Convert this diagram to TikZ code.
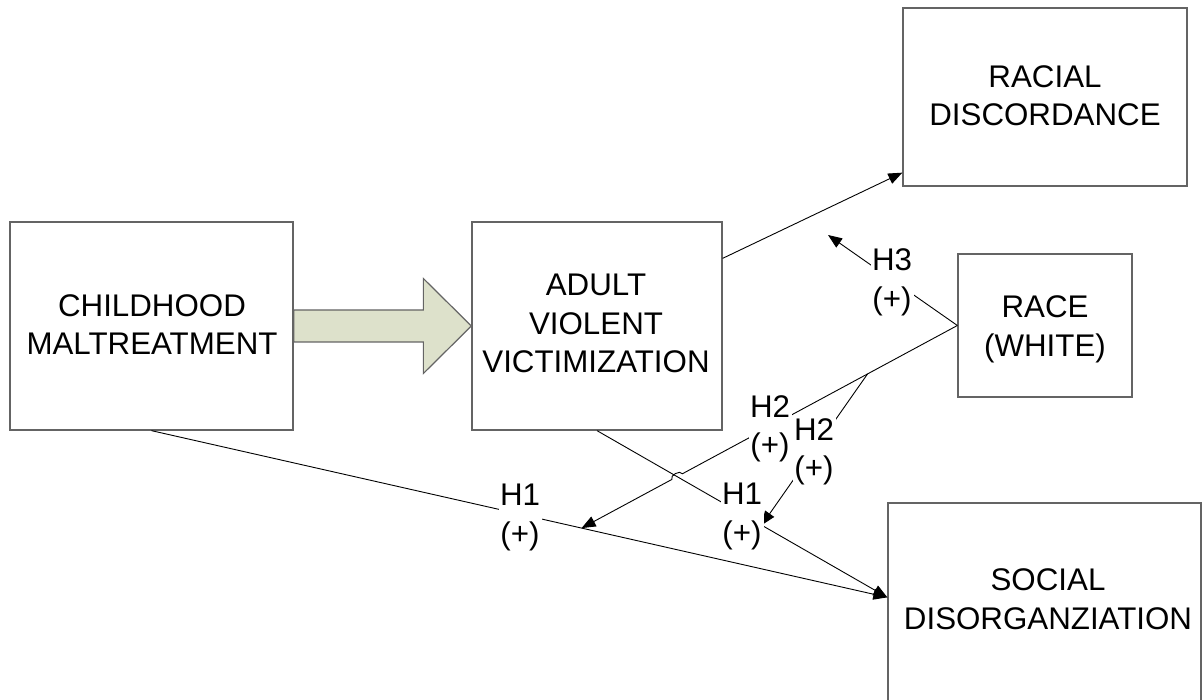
\documentclass[tikz,border=0pt]{standalone}
\usepackage{fontspec}
\setmainfont{Liberation Sans}
\usetikzlibrary{arrows.meta,calc}
\definecolor{arrowfill}{RGB}{221,225,203}
\definecolor{boxline}{RGB}{100,100,100}
\begin{document}
\begin{tikzpicture}[x=1pt,y=-1pt,
  box/.style={draw=boxline,line width=1.3pt,inner sep=0pt,rectangle},
  txt/.style={align=center,font=\fontsize{31.3}{38.5}\selectfont,inner sep=0pt},
  lbl/.style={txt,fill=white,inner sep=1.5pt},
  conn/.style={line width=0.9pt,-{Triangle[length=14pt,width=11pt]}}]
\useasboundingbox (0,0) rectangle (1204,700);
\clip (0,0) rectangle (1204,700);

% boxes
\node[box,minimum width=283pt,minimum height=208pt] (cm) at (151.5,326) {};
\node[box,minimum width=250pt,minimum height=208pt] (avv) at (597,326) {};
\node[box,minimum width=284pt,minimum height=178pt] (rd) at (1045,97) {};
\node[box,minimum width=174pt,minimum height=143pt] (race) at (1045,325.5) {};
\node[box,minimum width=313pt,minimum height=210pt] (sd) at (1044.5,608) {};

% box texts
\node[txt] (cmt) at (152,324.5) {CHILDHOOD\\MALTREATMENT};
\node[txt] (avvt) at (596,323.5) {ADULT\\VIOLENT\\VICTIMIZATION};
\node[txt] (rdt) at (1045,95.5) {RACIAL\\DISCORDANCE};
\node[txt] (racet) at (1045,329.5) {RACE\\(WHITE)};
\node[txt] (sdt) at (1048,599) {SOCIAL\\DISORGANZIATION};

% block arrow
\draw[draw=boxline,line width=1.2pt,fill=arrowfill]
  ($(cm.east)+(0,-16)$) -- ($(avv.west)+(-48,-16)$) -- ($(avv.west)+(-48,-47.5)$)
  -- (avv.west) -- ($(avv.west)+(-48,47.5)$) -- ($(avv.west)+(-48,16)$)
  -- ($(cm.east)+(0,16)$) -- cycle;

% coordinates
\coordinate (rdin) at ($(rd.south west)+(0,-14)$);
\coordinate (avvout) at ($(avv.north east)+(0,37)$);
\coordinate (sdin) at ($(sd.north west)+(0,95)$);
\coordinate (rw) at (race.west);
\coordinate (as) at (avv.south);
\coordinate (cs) at (cm.south);
\coordinate (t3) at (828,235);
\coordinate (t1) at ($(cs)!0.5845!(sdin)$);
\coordinate (t2) at ($(as)!0.567!(sdin)$);
\coordinate (br) at ($(rw)!0.239!(t1)$);
\coordinate (X) at (intersection of rw--t1 and as--sdin);

% connectors
\draw[conn] (avvout) -- (rdin);
\draw[conn] (cs) -- (sdin);
\draw[conn] (as) -- (sdin);
\draw[conn] (rw) -- (t3);
\draw[conn] (rw) -- ($(X)!6pt!(rw)$) to[bend right=90] ($(X)!6pt!(t1)$) -- (t1);
\draw[conn] (br) -- (t2);

% labels
\node[lbl] (h1a) at (520,517.5) {H1\\(+)};
\node[lbl] (h1b) at (742,516.5) {H1\\(+)};
\node[lbl] (h2a) at (770,429) {H2\\(+)};
\node[lbl] (h2b) at (814,452) {H2\\(+)};
\node[lbl] (h3) at (892,282.5) {H3\\(+)};
\end{tikzpicture}
\end{document}
